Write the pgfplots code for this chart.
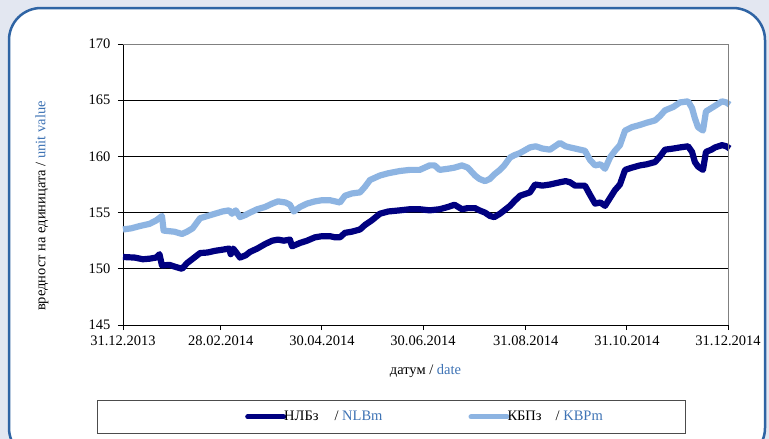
\documentclass[border=0pt]{standalone}
\usepackage{pgfplots}
\pgfplotsset{compat=1.18}
\usepackage{pgfplotstable}
\usepackage{fontspec}
\setmainfont{Liberation Serif}
\definecolor{bgc}{RGB}{227,231,241}
\definecolor{bord}{RGB}{47,100,164}
\definecolor{dk}{RGB}{0,0,128}
\definecolor{lt}{RGB}{141,180,226}
\definecolor{tb}{RGB}{62,115,181}
\pgfplotstableread{
d v
0 151.05
7 151.0
12 150.85
16 150.9
20 151.0
22 151.3
23.5 150.3
28 150.35
31 150.2
35.6 150.0
38.6 150.5
43 151.0
46.5 151.4
51 151.45
55.5 151.6
60 151.7
64 151.8
65 151.3
66.5 151.8
70.6 151.0
74 151.2
76.6 151.5
81 151.8
85.7 152.2
90 152.5
93.5 152.6
97 152.5
100.7 152.6
102 152.0
106.8 152.3
111 152.5
115.8 152.8
120 152.9
124.9 152.9
128 152.8
130.9 152.8
133.9 153.2
138 153.3
143 153.5
146 153.9
150 154.3
155 154.9
160 155.1
167 155.2
173 155.3
179 155.3
185 155.2
191 155.3
196 155.5
200 155.7
204.5 155.3
208 155.4
212.4 155.4
215 155.2
218.4 155.0
221.4 154.7
224 154.6
227.4 154.9
233.5 155.6
236 156.0
239.5 156.5
245.5 156.8
248.6 157.5
253 157.4
257.6 157.5
263.6 157.7
267 157.8
269.7 157.7
272.7 157.4
278.7 157.4
281.7 156.6
284.8 155.8
288 155.9
290.8 155.6
293.8 156.3
296.8 157.0
299.8 157.5
302.9 158.8
307 159.0
311.9 159.2
316 159.3
321 159.5
324 160.0
327 160.6
332 160.7
336 160.8
340.9 160.9
343.3 160.4
345 159.5
346.9 159.1
349.9 158.8
351.7 160.4
355 160.6
357.2 160.8
361.4 161.0
364 160.9
366 160.7
}\nlb
\pgfplotstableread{
d v
0 153.5
5 153.6
10 153.8
16 154.0
20 154.3
23.5 154.7
24.5 153.4
31 153.3
35.6 153.1
38.6 153.3
42 153.6
46.5 154.5
51 154.7
55.5 154.9
60 155.1
64 155.2
65.8 154.9
68 155.2
70.6 154.6
74 154.8
76.6 155.0
81 155.3
85.7 155.5
90 155.8
93.5 156.0
98 155.9
100.7 155.7
103 155.1
106.8 155.5
111 155.8
115.8 156.0
120 156.1
124.9 156.1
130.9 155.9
133.9 156.5
138 156.7
143 156.8
146 157.3
149 157.9
155 158.3
160 158.5
167 158.7
173 158.8
179 158.8
185 159.2
188 159.2
191 158.8
196 158.9
200 159.0
204.5 159.2
208 159.0
212.4 158.3
215 158.0
218.4 157.8
221.4 158.0
224 158.4
227.4 158.8
230 159.2
233.5 159.9
236 160.1
239.5 160.3
245.5 160.8
249 160.9
253 160.7
257.6 160.6
263.6 161.2
267 160.9
269.7 160.8
272.7 160.7
278.7 160.5
281.7 159.7
284.8 159.2
288 159.3
290.8 158.9
293.8 159.9
296.8 160.5
299.8 161.0
302.9 162.3
307 162.6
311.9 162.8
316 163.0
321 163.2
324 163.6
327 164.1
332 164.4
336 164.8
340.9 164.9
343.3 164.3
345 163.4
346.9 162.6
349.9 162.3
351.7 164.0
355 164.3
357.2 164.5
361.4 164.9
364 164.8
366 164.6
}\kbp
\begin{document}
\begin{tikzpicture}
\fill[bgc] (0,0) rectangle (769bp,-439bp);
\path[use as bounding box] (0,0) rectangle (769bp,-439bp);
\begin{scope}
\clip (0,0) rectangle (769bp,-439bp);
\draw[bord, line width=2.5bp, fill=white, rounded corners=32bp] (9bp,-8bp) rectangle (765bp,-460bp);
\end{scope}
\draw[black!70, line width=1bp, fill=white] (97bp,-400bp) rectangle (685bp,-433bp);
\begin{axis}[
  scale only axis, width=605bp, height=281bp,
  anchor=south west, at={(123bp,-325bp)},
  xmin=0, xmax=365, ymin=145, ymax=170,
  axis lines=left, axis line style={-, black, line width=0.9bp},
  tick align=outside, major tick length=5bp,
  tick style={black, line width=0.9bp},
  xtick={0,59,120,181,243,304,365},
  xticklabels={31.12.2013,28.02.2014,30.04.2014,30.06.2014,31.08.2014,31.10.2014,31.12.2014},
  ytick={145,150,...,170},
  ymajorgrids, grid style={black, line width=0.8bp},
  /pgf/number format/assume math mode=true,
  ticklabel style={font=\fontsize{14.5bp}{16bp}\selectfont},
  xticklabel style={yshift=-2bp},
  yticklabel style={xshift=-4bp},
  xlabel={датум / \textcolor{tb}{date}},
  ylabel={вредност на единицата / \textcolor{tb}{unit value}},
  label style={font=\fontsize{14.5bp}{16bp}\selectfont},
  xlabel style={at={(0.5,-0.164)}, anchor=center},
  ylabel style={at={(-0.134,0.4235)}, anchor=center},
  clip=false,
  legend columns=2,
  legend style={at={(0.2017,-0.327)}, anchor=west, draw=none, fill=none, inner sep=0pt,
    font=\fontsize{14.5bp}{16bp}\selectfont,
    /tikz/every even column/.append style={column sep=84bp}},
  legend cell align=left,
  legend image code/.code={\draw[#1, line width=5bp, line cap=round] (0bp,0bp) -- (36bp,0bp);},
  after end axis/.code={\draw[black!50, line width=1bp] (rel axis cs:0,1) -- (rel axis cs:1,1) -- (rel axis cs:1,0);},
]
\addplot[dk, line width=6.2bp, line join=round] table[x=d,y=v] {\nlb};
\addlegendentry{\hspace{-4bp}НЛБз\hspace{16bp}/ \textcolor{tb}{NLBm}}
\addplot[lt, line width=6.2bp, line join=round] table[x=d,y=v] {\kbp};
\addlegendentry{\hspace{-4bp}КБПз\hspace{14bp}/ \textcolor{tb}{KBPm}}
\end{axis}
\end{tikzpicture}
\end{document}
